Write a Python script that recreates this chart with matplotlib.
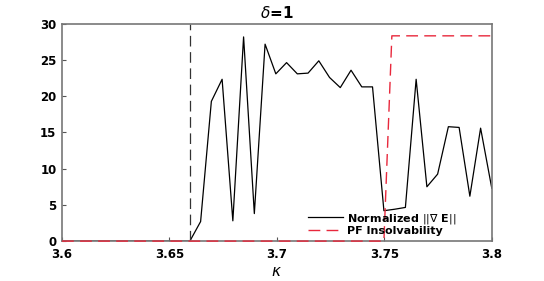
import matplotlib.pyplot as plt

# kappa values and normalized gradient norm
kappa = [3.6, 3.6545, 3.6595, 3.6645, 3.6695, 3.6745, 3.6795, 3.6845, 3.6895,
         3.6945, 3.6995, 3.7045, 3.7095, 3.7145, 3.7195, 3.7245, 3.7295,
         3.7345, 3.7395, 3.7445, 3.7498, 3.7548, 3.7598, 3.7648, 3.7698,
         3.7748, 3.7798, 3.7848, 3.7898, 3.7948, 3.8]
grad_norm = [0, 0, 0, 2.7, 19.3, 22.35, 2.8, 28.2, 3.8,
             27.2, 23.1, 24.65, 23.1, 23.2, 24.9, 22.6, 21.2,
             23.6, 21.3, 21.3, 4.2, 4.4, 4.65, 22.35, 7.5,
             9.25, 15.8, 15.7, 6.2, 15.6, 7.3]

# PF insolvability indicator
pf_kappa = [3.6, 3.7498, 3.7535, 3.8]
pf_val = [0, 0, 28.35, 28.35]

kappa_crit = 3.6595

fig = plt.figure(figsize=(5.44, 2.81), dpi=100)
ax = fig.add_axes([0.114, 0.142, 0.79, 0.773])

ax.plot(kappa, grad_norm, color='black', lw=0.9, label=r'Normalized $||\nabla$ E$||$')
ax.plot(pf_kappa, pf_val, color='#e8283c', lw=1.0, ls=(0, (8.5, 4.5)),
        label='PF Insolvability', zorder=3, clip_on=False)
ax.plot([kappa_crit, kappa_crit], [0, 30], color='#333333', lw=0.9, ls=(0, (8.5, 4.5)))

ax.set_xlim(3.6, 3.8)
ax.set_ylim(0, 30)
ax.set_xticks([3.6, 3.65, 3.7, 3.75, 3.8])
ax.set_xticklabels(['3.6', '3.65', '3.7', '3.75', '3.8'])
ax.set_yticks([0, 5, 10, 15, 20, 25, 30])
ax.tick_params(direction='in', length=3, width=0.8, labelsize=8.5, color='#555555')
ax.tick_params(axis='x', pad=5)
ax.tick_params(axis='y', pad=4)
for lbl in ax.get_xticklabels() + ax.get_yticklabels():
    lbl.set_fontweight('bold')
for s in ax.spines.values():
    s.set_color('#777777')
    s.set_linewidth(1.2)

ax.set_title(r'$\delta$=1', fontsize=11, fontweight='bold', pad=4)
ax.set_xlabel(r'$\kappa$', fontsize=11, labelpad=2)

leg = ax.legend(loc='lower right', bbox_to_anchor=(0.93, 0.0), frameon=False,
                prop={'size': 8, 'weight': 'bold'}, handlelength=3.2,
                handletextpad=0.3, labelspacing=0.0, borderaxespad=0.1)

fig.savefig('out.png', dpi=100)
